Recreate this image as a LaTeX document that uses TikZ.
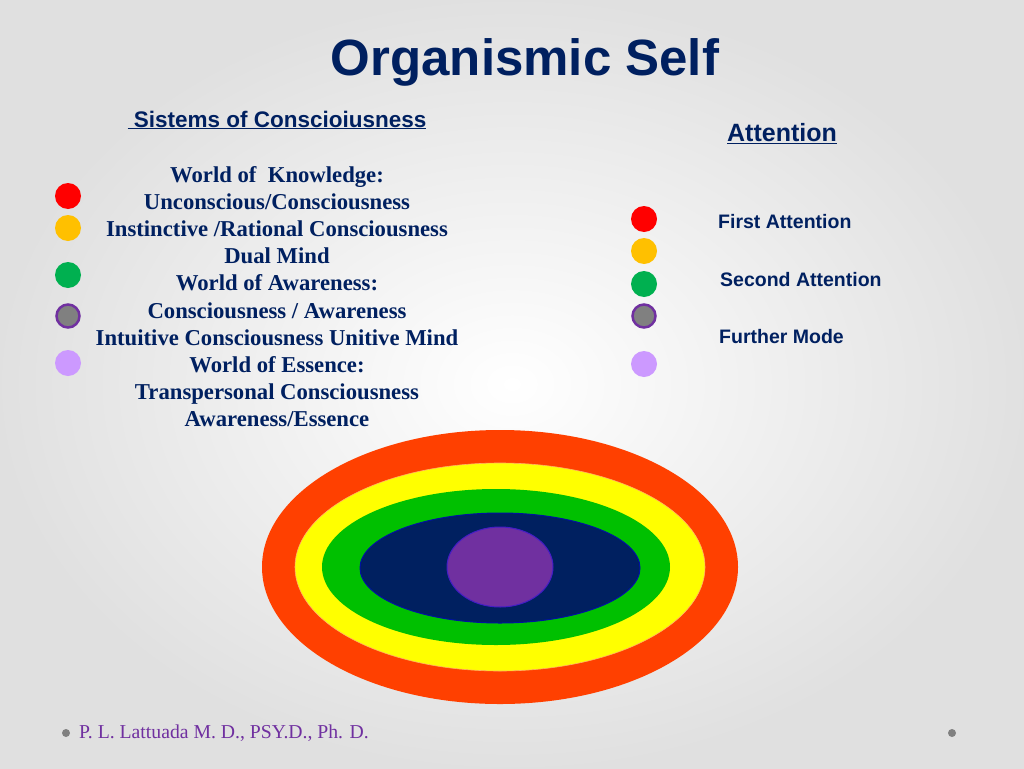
\documentclass[tikz,border=0pt]{standalone}
\usepackage{fontspec}
\setmainfont{Liberation Serif}
\setsansfont{Liberation Sans}
\definecolor{navyt}{RGB}{0,32,96}
\definecolor{redc}{RGB}{255,64,0}
\definecolor{yel}{RGB}{255,255,0}
\definecolor{grn}{RGB}{0,192,0}
\definecolor{nav}{RGB}{0,32,96}
\definecolor{pur}{RGB}{112,48,160}
\definecolor{dred}{RGB}{255,0,0}
\definecolor{dorg}{RGB}{255,192,0}
\definecolor{dgrn}{RGB}{0,176,80}
\definecolor{dgry}{RGB}{128,128,128}
\definecolor{dlav}{RGB}{204,153,255}
\definecolor{foot}{RGB}{112,48,160}
\begin{document}
\begin{tikzpicture}[x=1pt,y=-1pt,
  dot/.style={circle,minimum size=26pt,inner sep=0pt},
  body/.style={font=\fontsize{22.7}{22.7}\selectfont\bfseries,text=navyt,anchor=base,inner sep=0pt},
  att/.style={font=\sffamily\fontsize{19.5}{19.5}\selectfont\bfseries,text=navyt,anchor=west,inner sep=0pt}]
\useasboundingbox (0,0) rectangle (1024,768);
\shade[inner color=white,outer color=black!12] (0,0) rectangle (1024,768);
\node[font=\sffamily\bfseries\fontsize{51}{51}\selectfont,text=navyt] (title) at (525,62) {Organismic Self};
\node[font=\sffamily\bfseries\fontsize{22.5}{22.5}\selectfont,text=navyt] (sis) at (277,120) {\underline{\ Sistems of Conscioiusness}};
\node[font=\sffamily\bfseries\fontsize{25}{25}\selectfont,text=navyt] (att) at (782,134) {\underline{Attention}};
\foreach \t [count=\i] in {World of\ \ Knowledge:,Unconscious/Consciousness,Instinctive /Rational Consciousness,Dual Mind,World of Awareness:,Consciousness / Awareness,Intuitive Consciousness Unitive Mind,World of Essence:,Transpersonal Consciousness,Awareness/Essence}
  \node[body] (l\i) at (277,{182+27.2*(\i-1)}) {\t};
\node[dot,fill=dred] (a1) at (68,196) {};
\node[dot,fill=dorg] (a2) at (68,228) {};
\node[dot,fill=dgrn] (a3) at (68,275) {};
\node[dot,fill=dgry,draw=pur,line width=2.5pt,minimum size=23pt] (a4) at (68,316) {};
\node[dot,fill=dlav] (a5) at (68,363) {};
\node[dot,fill=dred] (b1) at (644,219) {};
\node[dot,fill=dorg] (b2) at (644,251) {};
\node[dot,fill=dgrn] (b3) at (644,284) {};
\node[dot,fill=dgry,draw=pur,line width=2.5pt,minimum size=23pt] (b4) at (644,316) {};
\node[dot,fill=dlav] (b5) at (644,364) {};
\node[att] (t1) at (718,222) {First Attention};
\node[att] (t2) at (720,280) {Second Attention};
\node[att] (t3) at (719,337) {Further Mode};
\fill[redc] (500,567) ellipse [x radius=238,y radius=137];
\fill[yel,draw=orange!60,line width=0.6pt] (500,567) ellipse [x radius=205,y radius=104];
\fill[grn] (496,567) ellipse [x radius=174,y radius=78];
\fill[nav,draw=blue!40!nav,line width=1pt] (500,568) ellipse [x radius=140,y radius=55];
\fill[pur,draw=blue!40!pur,line width=1pt] (500,567) ellipse [x radius=53,y radius=40];
\fill[dgry] (66,733) circle (4);
\fill[dgry] (952,733) circle (4);
\node[anchor=west,text=foot,font=\fontsize{19.7}{19.7}\selectfont,inner sep=0pt] (ft) at (79,733) {P. L. Lattuada M. D., PSY.D., Ph. D.};
\end{tikzpicture}
\end{document}
